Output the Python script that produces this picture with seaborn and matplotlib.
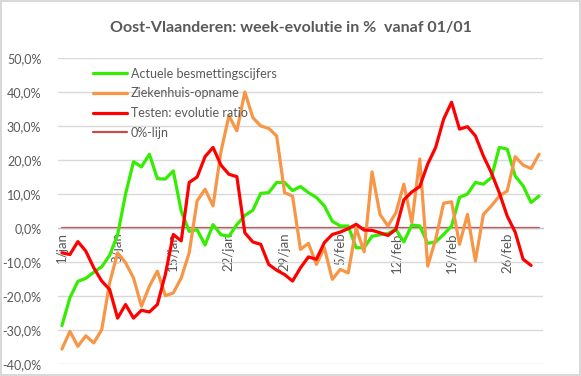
import matplotlib
matplotlib.use("Agg")
import matplotlib.pyplot as plt
import seaborn as sns
import pandas as pd
import numpy as np
from matplotlib.ticker import FixedLocator, FuncFormatter

# ---- data (values in %) ----
tick_labels = ["1/jan", "8/jan", "15/jan", "22/jan", "29/jan", "5/feb", "12/feb", "19/feb", "26/feb"]
tick_days = [0, 7, 14, 21, 28, 35, 42, 49, 56]

besmettingen = [-28.7, -20.5, -15.7, -14.8, -13.0, -11.4, -8.0, -2.0, 10.0, 19.5,
                18.0, 21.7, 14.5, 14.4, 16.8, 5.0, -1.0, -0.5, -5.0, 1.0,
                -2.0, -2.4, 1.0, 3.7, 5.2, 10.2, 10.4, 13.4, 13.4, 11.0,
                12.2, 10.4, 9.0, 6.5, 2.0, 0.6, 0.6, -5.8, -5.8, -2.4,
                -2.0, -1.6, -0.4, -4.1, 0.9, 0.6, -4.5, -4.1, -1.9, 0.6,
                9.0, 10.0, 13.4, 12.9, 14.8, 23.7, 23.2, 15.3, 12.4, 7.5,
                9.4]

ziekenhuis = [-35.6, -30.4, -34.8, -31.7, -33.8, -29.9, -16.1, -7.3, -10.2, -14.7,
              -23.0, -17.1, -12.7, -19.9, -19.1, -14.7, -7.3, 8.0, 11.4, 6.5,
              22.5, 33.0, 28.6, 40.0, 32.5, 30.0, 29.3, 27.1, 10.4, 9.4,
              -6.3, -4.5, -10.7, -5.8, -15.1, -12.2, -13.2, 0.0, -7.0, 16.5,
              4.0, 0.6, 4.5, 12.9, 1.6, 20.3, -11.2, -3.3, 7.3, 7.7,
              -4.8, 4.0, -9.7, 4.0, 6.5, 9.4, 10.9, 21.0, 18.5, 17.5,
              21.7]

testen = [-7.3, -7.8, -4.0, -6.8, -11.7, -15.6, -18.1, -26.5, -22.5, -26.5,
          -24.2, -24.7, -22.5, -13.7, -1.9, -3.8, 13.4, 15.0, 21.0, 23.7,
          18.5, 15.8, 15.1, -1.4, -4.1, -4.8, -10.7, -12.4, -13.7, -15.6,
          -11.7, -8.5, -9.2, -4.3, -1.9, -1.2, -0.2, 1.1, -0.6, -0.7,
          -1.4, -2.2, -0.4, 8.3, 10.6, 12.2, 18.8, 23.7, 32.0, 37.0,
          29.1, 29.8, 27.1, 21.2, 16.3, 10.4, 3.5, -1.2, -9.2, -11.0]

nul_lijn = [0.0] * len(besmettingen)

series_names = ["Actuele besmettingscijfers", "Ziekenhuis-opname",
                "Testen: evolutie ratio", "0%-lijn"]
colors = ["#33EE00", "#F79646", "#FF0000", "#C0504D"]
widths = [2.3, 2.3, 2.3, 1.6]

# ---- build long table ----
frames = []
for name, vals in zip(series_names, [besmettingen, ziekenhuis, testen, nul_lijn]):
    frames.append(pd.DataFrame({"dag": np.arange(len(vals)), "waarde": vals, "reeks": name}))
df = pd.concat(frames, ignore_index=True)

sns.set_style("white")
plt.rcParams["font.family"] = ["Lato", "DejaVu Sans"]

fig = plt.figure(figsize=(5.81, 3.76), dpi=100)
fig.patch.set_edgecolor("#D9D9D9")
fig.patch.set_linewidth(1.5)
ax = fig.add_axes([0.0998, 0.0319, 0.8348, 0.8138])

text_col = "#595959"
for name, col, lw in zip(series_names, colors, widths):
    sub = df[df["reeks"] == name]
    sns.lineplot(data=sub, x="dag", y="waarde", color=col, linewidth=lw,
                 label=name, ax=ax, zorder=3 if name != "0%-lijn" else 2.5)

ax.set_xlim(-0.5, 60.5)
ax.set_ylim(-40, 50)
ax.set_yticks(np.arange(-40, 51, 10))
ax.yaxis.set_major_formatter(FuncFormatter(lambda v, p: f"{v:.1f}%".replace(".", ",")))
ax.grid(axis="y", color="#D9D9D9", linewidth=1.0, zorder=0)
ax.grid(axis="x", visible=False)
ax.set_xlabel("")
ax.set_ylabel("")

for s in ["left", "right", "top"]:
    ax.spines[s].set_visible(False)
ax.spines["bottom"].set_position(("data", 0))
ax.spines["bottom"].set_color("#BFBFBF")

ax.xaxis.set_major_locator(FixedLocator(tick_days))
ax.set_xticklabels(tick_labels, rotation=90, va="top", ha="center")
ax.xaxis.set_minor_locator(FixedLocator([d - 0.4 for d in [0, 14, 28, 42, 56]]))
ax.tick_params(axis="x", which="major", length=0, pad=3, labelsize=9.5, labelcolor=text_col)
ax.tick_params(axis="x", which="minor", length=4, color="#BFBFBF", direction="out")
ax.tick_params(axis="y", length=0, pad=12, labelsize=9, labelcolor=text_col)
for lab in ax.get_yticklabels():
    lab.set_horizontalalignment("right")

leg = ax.legend(loc="upper left", bbox_to_anchor=(0.062, 0.985), frameon=False,
                fontsize=9, handlelength=2.7, handletextpad=0.3,
                labelspacing=0.62, borderaxespad=0)
for t in leg.get_texts():
    t.set_color(text_col)

fig.text(0.5, 0.926, "Oost-Vlaanderen: week-evolutie in %  vanaf 01/01",
         ha="center", va="center", fontsize=11.5, fontweight="bold", color=text_col)

fig.savefig("out.png", dpi=100)
